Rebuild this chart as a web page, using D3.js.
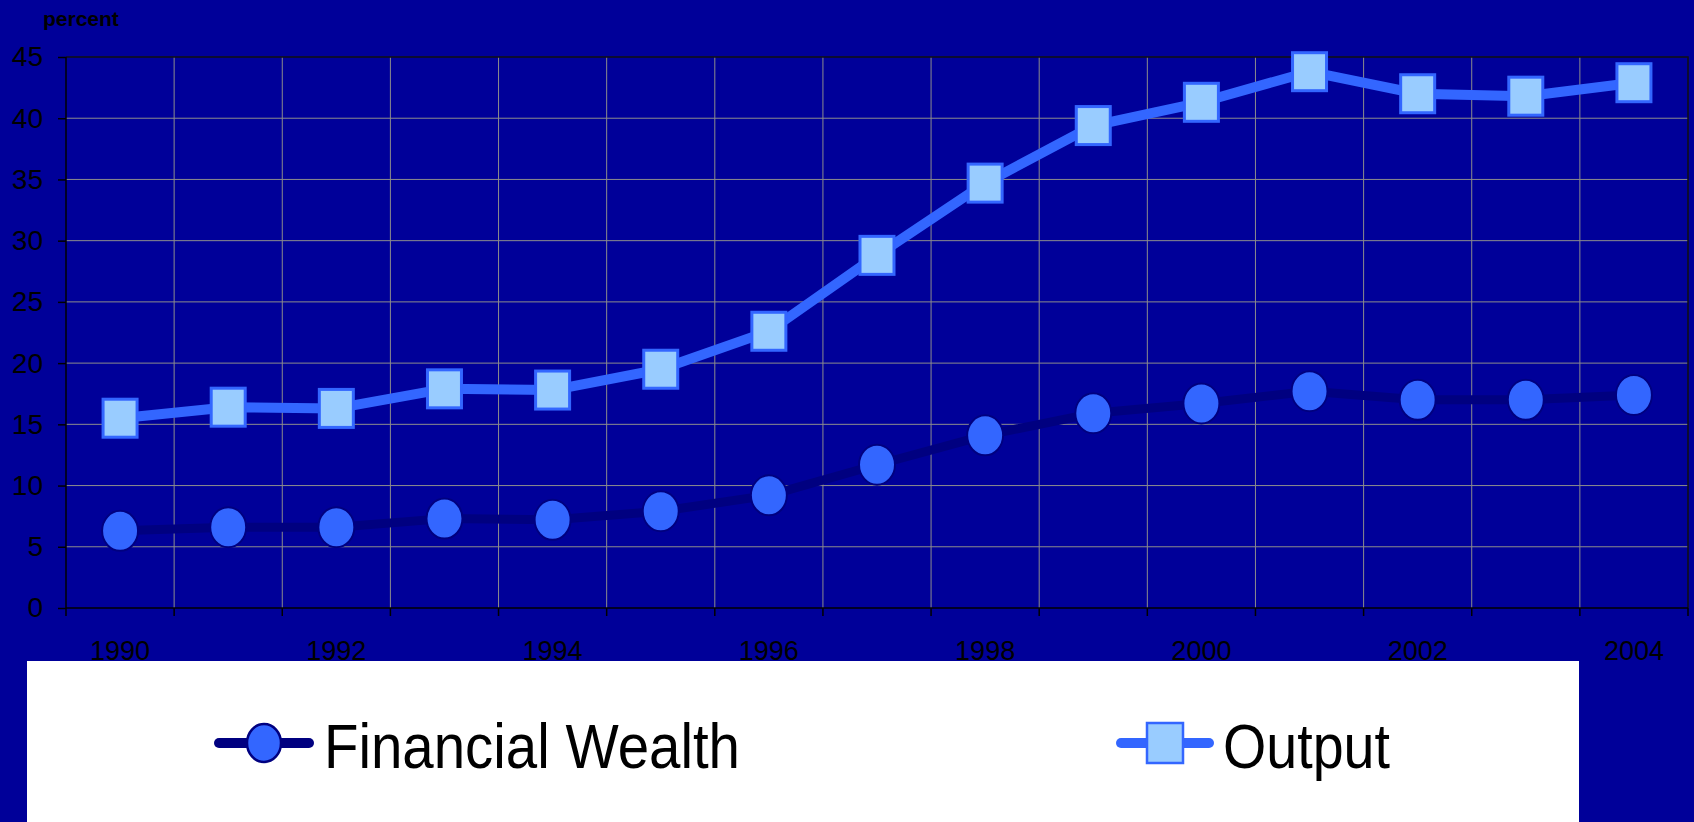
<!DOCTYPE html>
<html>
<head>
<meta charset="utf-8">
<script src="https://cdn.jsdelivr.net/npm/d3@7"></script>
<style>
  body { margin: 0; background: #000099; }
  text { font-family: "Liberation Sans", Arial, sans-serif; fill: #000; }
</style>
</head>
<body>
<div id="chart"></div>
<script>
// données (percent)
const years = [1990, 1991, 1992, 1993, 1994, 1995, 1996, 1997, 1998, 1999, 2000, 2001, 2002, 2003, 2004];
const financialWealth = [6.3, 6.6, 6.6, 7.3, 7.2, 7.9, 9.2, 11.7, 14.1, 15.9, 16.7, 17.7, 17.0, 17.0, 17.4];
const output = [15.5, 16.4, 16.3, 17.9, 17.8, 19.5, 22.6, 28.8, 34.7, 39.4, 41.3, 43.8, 42.0, 41.8, 42.9];
const yTicks = [0, 5, 10, 15, 20, 25, 30, 35, 40, 45];
const xLabels = [1990, 1992, 1994, 1996, 1998, 2000, 2002, 2004];

const W = 1694, H = 822;
const margin = { top: 57, left: 66, right: 6, bottom: 214 };

const svg = d3.select("#chart")
  .append("svg")
  .attr("width", W)
  .attr("height", H);

svg.append("rect").attr("width", W).attr("height", H).attr("fill", "#000099");

const xScale = d3.scaleBand()
  .domain(years)
  .range([margin.left, W - margin.right])
  .padding(0);

const yScale = d3.scaleLinear()
  .domain([0, 45])
  .range([H - margin.bottom, margin.top]);

const x0 = xScale.range()[0], x1 = xScale.range()[1];
const yb = yScale(0), yt = yScale(45);

// bords des catégories
const edges = years.map(y => xScale(y)).concat([x1]);

//------Grille
svg.append("g")
  .selectAll("line")
  .data(yTicks.filter(t => t > 0 && t < 45))
  .join("line")
  .attr("x1", x0).attr("x2", x1)
  .attr("y1", d => yScale(d)).attr("y2", d => yScale(d))
  .attr("stroke", "#8c8c8c").attr("stroke-width", 1);

svg.append("g")
  .selectAll("line")
  .data(edges.slice(1, -1))
  .join("line")
  .attr("x1", d => d).attr("x2", d => d)
  .attr("y1", yt).attr("y2", yb)
  .attr("stroke", "#8c8c8c").attr("stroke-width", 1);

// cadre haut / droite
svg.append("path")
  .attr("d", `M${x0},${yt}H${x1}V${yb}`)
  .attr("fill", "none")
  .attr("stroke", "#111")
  .attr("stroke-width", 1.5);

//------Axe y
const yAxis = svg.append("g")
  .attr("transform", `translate(${x0},0)`)
  .call(d3.axisLeft(yScale).tickValues(yTicks).tickSize(8).tickPadding(15));
yAxis.selectAll("path, line").attr("stroke", "#000").attr("stroke-width", 1.5);
yAxis.select(".domain").attr("d", `M0,${yb}V${yt}`);
yAxis.selectAll("text")
  .style("font-size", "28px")
  .style("font-family", "Liberation Sans, Arial, sans-serif")
  .attr("fill", "#000");

//------Axe x (traits aux bords, libellés au centre)
svg.append("line")
  .attr("x1", x0).attr("x2", x1)
  .attr("y1", yb).attr("y2", yb)
  .attr("stroke", "#000").attr("stroke-width", 1.5);

svg.append("g")
  .selectAll("line")
  .data(edges)
  .join("line")
  .attr("x1", d => d).attr("x2", d => d)
  .attr("y1", yb).attr("y2", yb + 8)
  .attr("stroke", "#000").attr("stroke-width", 1.5);

svg.append("g")
  .selectAll("text")
  .data(xLabels)
  .join("text")
  .attr("x", d => xScale(d) + xScale.bandwidth() / 2)
  .attr("y", yb + 52)
  .attr("text-anchor", "middle")
  .style("font-size", "27px")
  .text(d => d);

// titre axe
svg.append("text")
  .attr("x", 43)
  .attr("y", 26)
  .style("font-size", "21px")
  .style("font-weight", "bold")
  .text("percent");

//------Séries
const cx = d => xScale(d) + xScale.bandwidth() / 2;

const fwData = years.map((y, i) => ({ year: y, v: financialWealth[i] }));
const outData = years.map((y, i) => ({ year: y, v: output[i] }));

const line = d3.line().x(d => cx(d.year)).y(d => yScale(d.v));

svg.append("path")
  .datum(fwData)
  .attr("d", line)
  .attr("fill", "none")
  .attr("stroke", "#000080")
  .attr("stroke-width", 9)
  .attr("stroke-linejoin", "round");

svg.append("path")
  .datum(outData)
  .attr("d", line)
  .attr("fill", "none")
  .attr("stroke", "#3366ff")
  .attr("stroke-width", 10)
  .attr("stroke-linejoin", "round");

svg.append("g")
  .selectAll("ellipse")
  .data(fwData)
  .join("ellipse")
  .attr("cx", d => cx(d.year))
  .attr("cy", d => yScale(d.v))
  .attr("rx", 18)
  .attr("ry", 20)
  .attr("fill", "#3366ff")
  .attr("stroke", "#000080")
  .attr("stroke-width", 2);

svg.append("g")
  .selectAll("rect")
  .data(outData)
  .join("rect")
  .attr("x", d => cx(d.year) - 17)
  .attr("y", d => yScale(d.v) - 19)
  .attr("width", 34)
  .attr("height", 38)
  .attr("fill", "#99ccff")
  .attr("stroke", "#3366ff")
  .attr("stroke-width", 3);

//------Légende
const leg = svg.append("g");
leg.append("rect")
  .attr("x", 27).attr("y", 661)
  .attr("width", 1552).attr("height", 161)
  .attr("fill", "#fff");

const ly = 743;
leg.append("line")
  .attr("x1", 219).attr("x2", 309).attr("y1", ly).attr("y2", ly)
  .attr("stroke", "#000080").attr("stroke-width", 10).attr("stroke-linecap", "round");
leg.append("ellipse")
  .attr("cx", 264).attr("cy", ly).attr("rx", 17).attr("ry", 19)
  .attr("fill", "#3366ff").attr("stroke", "#000080").attr("stroke-width", 2.5);
leg.append("text")
  .attr("x", 324).attr("y", 768)
  .style("font-size", "63px")
  .attr("textLength", 416)
  .attr("lengthAdjust", "spacingAndGlyphs")
  .text("Financial Wealth");

leg.append("line")
  .attr("x1", 1121).attr("x2", 1209).attr("y1", ly).attr("y2", ly)
  .attr("stroke", "#3366ff").attr("stroke-width", 10).attr("stroke-linecap", "round");
leg.append("rect")
  .attr("x", 1147).attr("y", ly - 20).attr("width", 36).attr("height", 40)
  .attr("fill", "#99ccff").attr("stroke", "#3366ff").attr("stroke-width", 2.5);
leg.append("text")
  .attr("x", 1223).attr("y", 768)
  .style("font-size", "63px")
  .attr("textLength", 167)
  .attr("lengthAdjust", "spacingAndGlyphs")
  .text("Output");
</script>
</body>
</html>
